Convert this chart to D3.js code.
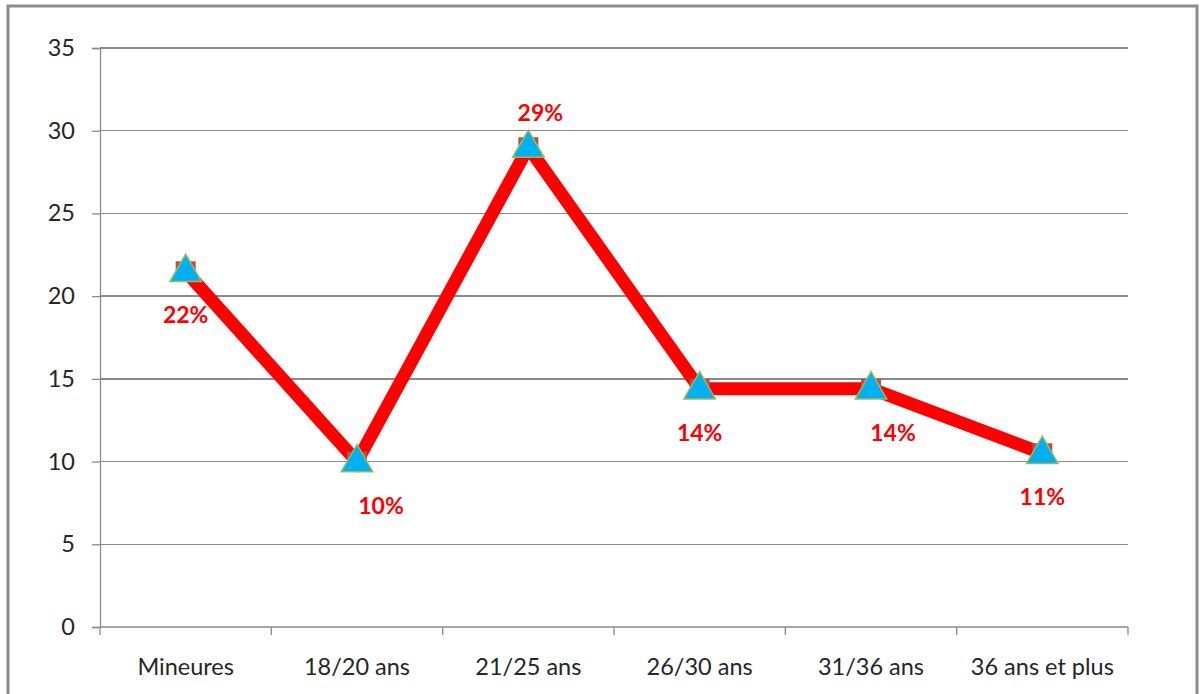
<!DOCTYPE html>
<html>
<head>
<meta charset="utf-8">
<script src="https://cdn.jsdelivr.net/npm/d3@7"></script>
<style>
  html, body { margin: 0; padding: 0; background: #fff; }
  svg { display: block; }
</style>
</head>
<body>
<svg id="chart" width="1202" height="694"></svg>
<script>
// Age groups and their share (%)
const categories = ["Mineures", "18/20 ans", "21/25 ans", "26/30 ans", "31/36 ans", "36 ans et plus"];
const values = [21.5, 10, 29, 14.4, 14.4, 10.5];
const yTicks = [0, 5, 10, 15, 20, 25, 30, 35];
// where each value label sits relative to its point
const labelSide = ["below", "below", "above", "below", "below", "below"];
const labelShift = [0, 24, 12, 0, 22, 0];

const svg = d3.select("#chart");
const W = 1202, H = 694;
const margin = { left: 100, right: 74, top: 48, bottom: 67 };

// outer frame
svg.append("rect")
  .attr("x", 8).attr("y", 6)
  .attr("width", 1189).attr("height", 700)
  .attr("fill", "#fff").attr("stroke", "#8c8c8c").attr("stroke-width", 3);

const x = d3.scaleBand()
  .domain(categories)
  .range([margin.left, W - margin.right])
  .paddingInner(0).paddingOuter(0);

const y = d3.scaleLinear()
  .domain([0, 35])
  .range([H - margin.bottom, margin.top]);

const font = "Lato, 'Liberation Sans', sans-serif";

// horizontal gridlines
svg.append("g")
  .selectAll("line")
  .data(yTicks.filter(d => d > 0))
  .join("line")
  .attr("x1", margin.left).attr("x2", W - margin.right)
  .attr("y1", d => y(d)).attr("y2", d => y(d))
  .attr("stroke", "#8a8a8a").attr("stroke-width", 1.3)
  .attr("shape-rendering", "crispEdges");

// y axis
const yAxis = svg.append("g")
  .attr("transform", `translate(${margin.left},0)`)
  .call(d3.axisLeft(y).tickValues(yTicks).tickSize(8).tickPadding(17));
yAxis.selectAll("path, line").attr("stroke", "#8a8a8a").attr("stroke-width", 1.3);
yAxis.selectAll("text")
  .attr("font-family", font).attr("font-size", 23.5).attr("fill", "#262626");

// x axis with ticks between categories
const xAxisG = svg.append("g")
  .attr("transform", `translate(0,${y(0)})`);
xAxisG.append("line")
  .attr("x1", margin.left).attr("x2", W - margin.right)
  .attr("stroke", "#8a8a8a").attr("stroke-width", 1.3);
const bounds = categories.map(c => x(c)).concat([x.range()[1]]);
xAxisG.selectAll(".tk")
  .data(bounds)
  .join("line")
  .attr("class", "tk")
  .attr("x1", d => d).attr("x2", d => d)
  .attr("y1", 0).attr("y2", 8)
  .attr("stroke", "#8a8a8a").attr("stroke-width", 1.3);
xAxisG.selectAll(".lbl")
  .data(categories)
  .join("text")
  .attr("class", "lbl")
  .attr("x", d => x(d) + x.bandwidth() / 2)
  .attr("y", 48)
  .attr("text-anchor", "middle")
  .attr("font-family", font).attr("font-size", 23.5).attr("fill", "#262626")
  .text(d => d);

const cx = (d, i) => x(categories[i]) + x.bandwidth() / 2;

// series line
const line = d3.line()
  .x((d, i) => cx(d, i))
  .y(d => y(d));
svg.append("path")
  .datum(values)
  .attr("d", line)
  .attr("fill", "none")
  .attr("stroke", "#ff0000")
  .attr("stroke-width", 13)
  .attr("stroke-linejoin", "miter");

// square markers behind the triangles
svg.append("g")
  .selectAll("rect")
  .data(values)
  .join("rect")
  .attr("x", (d, i) => cx(d, i) - 10)
  .attr("y", d => y(d) - 10)
  .attr("width", 20).attr("height", 20)
  .attr("fill", "#b8504a");

// triangle markers
const tri = d3.symbol().type(d3.symbolTriangle).size(430);
svg.append("g")
  .selectAll("path")
  .data(values)
  .join("path")
  .attr("d", tri)
  .attr("transform", (d, i) => `translate(${cx(d, i)},${y(d) + 1})`)
  .attr("fill", "#00b0f0")
  .attr("stroke", "#9bbb59")
  .attr("stroke-width", 1.5);

// value labels
svg.append("g")
  .selectAll("text")
  .data(values)
  .join("text")
  .attr("x", (d, i) => cx(d, i) + labelShift[i])
  .attr("y", (d, i) => labelSide[i] === "above" ? y(d) - 26 : y(d) + 52)
  .attr("text-anchor", "middle")
  .attr("font-family", font).attr("font-weight", "bold")
  .attr("font-size", 23).attr("fill", "#ff0000")
  .text(d => Math.round(d) + "%");
</script>
</body>
</html>
